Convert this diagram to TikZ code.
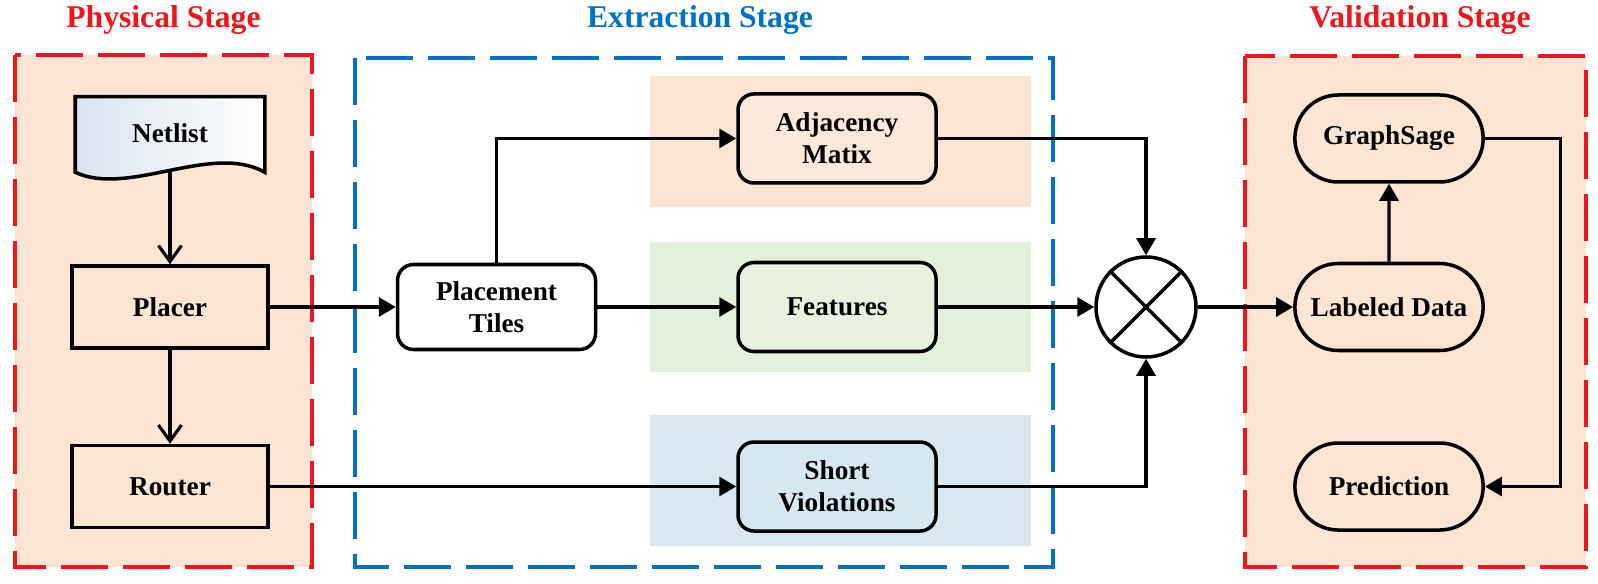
\documentclass[tikz,border=0pt]{standalone}
\usepackage{fontspec}
\setmainfont{Liberation Serif}
\usepackage{tikz}
\usetikzlibrary{positioning,arrows.meta,shapes.misc,backgrounds}

\definecolor{stagered}{RGB}{238,22,28}
\definecolor{stageblue}{RGB}{0,112,192}
\definecolor{peach}{RGB}{250,228,212}
\definecolor{bandgreen}{RGB}{226,239,218}
\definecolor{bandblue}{RGB}{218,231,241}
\definecolor{nodepeach}{RGB}{250,232,218}
\definecolor{nodegreen}{RGB}{232,241,224}
\definecolor{nodeblue}{RGB}{214,231,242}
\definecolor{netgray}{RGB}{218,227,238}

\begin{document}
\begin{tikzpicture}[
    stagebox/.style={line width=2.4pt, dash pattern=on 0.94cm off 0.3cm},
    title/.style={font=\bfseries\fontsize{18}{21}\selectfont},
    block/.style={rectangle, draw, line width=2pt, minimum width=3.92cm, minimum height=1.64cm, align=center, font=\bfseries\fontsize{15.5}{18}\selectfont},
    roundblock/.style={block, rounded corners=0.32cm, minimum width=3.96cm, minimum height=1.78cm},
    pill/.style={block, rounded rectangle, minimum width=4cm, minimum height=1.74cm, fill=peach},
    arrow/.style={-{Triangle[length=0.34cm,width=0.38cm]}, line width=1.8pt},
    vee/.style={-{Straight Barb[length=0.32cm,width=0.46cm]}, line width=1.8pt}
]
\useasboundingbox (0,0) rectangle (31.96,-11.66);

% Stage titles
\node[title, text=stagered] (phystitle) at (3.27,-0.4) {Physical Stage};
\node[title, text=stageblue] (extrtitle) at (14.0,-0.4) {Extraction Stage};
\node[title, text=stagered] (validtitle) at (28.4,-0.4) {Validation Stage};

% Physical stage
\node[block, fill=peach] (placer) at (3.40,-6.14) {Placer};
\node[block, fill=peach, below=1.88cm of placer] (router) {Router};
\node[block, draw=none, minimum width=3.72cm, minimum height=1.4cm, above=1.88cm of placer] (netlist) {Netlist};

% Extraction stage
\node[roundblock, fill=white, minimum height=1.7cm, right=2.52cm of placer] (tiles) {Placement\\Tiles};
\node[roundblock, fill=nodegreen] (features) at (16.74,-6.14) {Features};
\node[roundblock, fill=nodepeach, above=1.52cm of features] (adjacency) {Adjacency\\Matix};
\node[roundblock, fill=nodeblue, below=1.74cm of features] (short) {Short\\Violations};

% Fusion
\node[circle, draw, line width=2pt, fill=white, minimum size=2cm] (mult) at (22.92,-6.14) {};
\draw[line width=2pt] (mult.north west) -- (mult.south east);
\draw[line width=2pt] (mult.north east) -- (mult.south west);

% Validation stage
\node[pill] (labeled) at (27.78,-6.14) {Labeled Data};
\node[pill, above=1.56cm of labeled] (graphsage) {GraphSage};
\node[pill, below=1.78cm of labeled] (prediction) {Prediction};

% Stage frames, bands and the netlist sheet
\begin{scope}[on background layer]
\fill[peach] (0.30,-1.10) rectangle (6.24,-11.34);
\draw[stagebox, stagered] (0.30,-1.10) rectangle (6.24,-11.34);
\draw[stagebox, stageblue] (7.10,-1.16) rectangle (21.06,-11.34);
\fill[peach] (24.90,-1.12) rectangle (31.72,-11.34);
\draw[stagebox, stagered] (24.90,-1.12) rectangle (31.72,-11.34);
\fill[peach] (13.0,-1.52) rectangle (20.62,-4.14);
\fill[bandgreen] (13.0,-4.83) rectangle (20.62,-7.44);
\fill[bandblue] (13.0,-8.30) rectangle (20.62,-10.92);
\draw[line width=2pt, left color=netgray, right color=white]
    (netlist.north west) -- (netlist.north east) -- ([yshift=-0.04cm]netlist.south east)
    .. controls +(-1.06,0.6) and +(1.06,-0.5) .. ([yshift=-0.04cm]netlist.south west) -- cycle;
\end{scope}

% Connections
\draw[vee] (netlist.south) -- (placer.north);
\draw[vee] (placer) -- (router);
\draw[arrow] (placer) -- (tiles);
\draw[arrow] (tiles) -- (features);
\draw[arrow] (tiles.north) |- (adjacency.west);
\draw[arrow] (router) -- (short);
\draw[arrow] (adjacency.east) -| (mult.north);
\draw[arrow] (features) -- (mult);
\draw[arrow] (short.east) -| (mult.south);
\draw[arrow] (mult) -- (labeled);
\draw[arrow] (labeled) -- (graphsage);
\draw[arrow] (graphsage.east) -- ++(1.51,0) |- (prediction.east);

\end{tikzpicture}
\end{document}
